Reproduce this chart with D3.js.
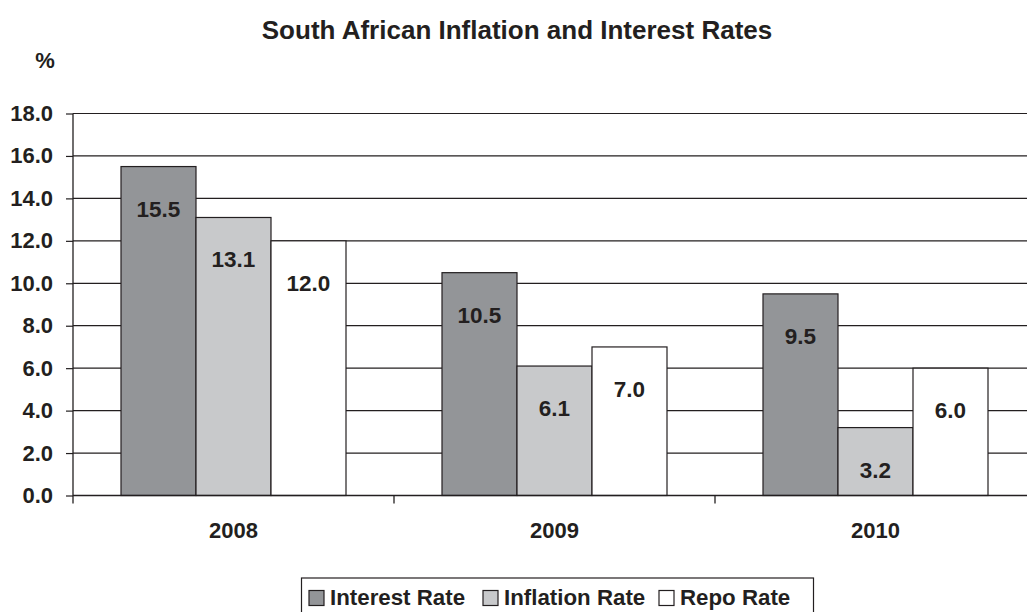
<!DOCTYPE html>
<html>
<head>
<meta charset="utf-8">
<script src="https://cdn.jsdelivr.net/npm/d3@7"></script>
<style>
  html, body { margin: 0; padding: 0; background: #fff; }
  svg { display: block; font-family: "Liberation Sans", Arial, sans-serif; font-weight: bold; }
</style>
</head>
<body>
<svg id="chart" width="1027" height="612"></svg>
<script>
// Chart data
const years = ["2008", "2009", "2010"];
const seriesNames = ["Interest Rate", "Inflation Rate", "Repo Rate"];
const interestRate = [15.5, 10.5, 9.5];
const inflationRate = [13.1, 6.1, 3.2];
const repoRate = [12.0, 7.0, 6.0];
const yTicks = [0, 2, 4, 6, 8, 10, 12, 14, 16, 18];

const seriesValues = [interestRate, inflationRate, repoRate];
const fills = ["#939598", "#c8c9cb", "#ffffff"];
const ink = "#231f20";

const svg = d3.select("#chart");

const x0 = d3.scaleBand().domain(years).range([73, 1036]).paddingInner(0).paddingOuter(0);
const groupWidth = 225;
const x1 = d3.scaleBand().domain(seriesNames).range([0, groupWidth]);
const y = d3.scaleLinear().domain([0, 18]).range([495.5, 113.5]);

// Title
svg.append("text")
  .attr("x", 517).attr("y", 39)
  .attr("text-anchor", "middle")
  .attr("font-size", 26)
  .attr("fill", ink)
  .text("South African Inflation and Interest Rates");

// Unit label
svg.append("text")
  .attr("x", 45).attr("y", 68)
  .attr("text-anchor", "middle")
  .attr("font-size", 22)
  .attr("fill", ink)
  .text("%");

// Horizontal gridlines
svg.append("g")
  .selectAll("line")
  .data(yTicks.filter(d => d > 0))
  .join("line")
  .attr("x1", 73).attr("x2", 1027)
  .attr("y1", d => y(d)).attr("y2", d => y(d))
  .attr("stroke", ink).attr("stroke-width", 1.2);

// Y axis
const yAxis = d3.axisLeft(y).tickValues(yTicks).tickFormat(d3.format(".1f")).tickSize(7).tickPadding(13);
const gy = svg.append("g").attr("transform", "translate(73,0)").call(yAxis);
gy.select(".domain").remove();
gy.selectAll(".tick line").attr("stroke", ink).attr("stroke-width", 1.2);
gy.selectAll(".tick text")
  .attr("fill", ink)
  .attr("font-size", 22)
  .attr("font-family", "'Liberation Sans', Arial, sans-serif")
  .attr("font-weight", "bold");
svg.append("line")
  .attr("x1", 73).attr("x2", 73).attr("y1", y(18)).attr("y2", y(0) + 8)
  .attr("stroke", ink).attr("stroke-width", 1.3);

// Bars
const groups = svg.append("g")
  .selectAll("g")
  .data(years)
  .join("g")
  .attr("transform", d => `translate(${x0(d) + (x0.bandwidth() - groupWidth) / 2},0)`);

groups.selectAll("rect")
  .data((d, i) => seriesNames.map((s, j) => ({ s, j, v: seriesValues[j][i] })))
  .join("rect")
  .attr("x", d => x1(d.s))
  .attr("y", d => y(d.v))
  .attr("width", x1.bandwidth())
  .attr("height", d => y(0) - y(d.v))
  .attr("fill", d => fills[d.j])
  .attr("stroke", ink)
  .attr("stroke-width", 1.2);

// Value labels
groups.selectAll("text")
  .data((d, i) => seriesNames.map((s, j) => ({ s, j, v: seriesValues[j][i] })))
  .join("text")
  .attr("x", d => x1(d.s) + x1.bandwidth() / 2)
  .attr("y", d => y(d.v) + 50)
  .attr("text-anchor", "middle")
  .attr("font-size", 22.5)
  .attr("fill", ink)
  .text(d => d3.format(".1f")(d.v));

// Baseline and category ticks
svg.append("line")
  .attr("x1", 73).attr("x2", 1027).attr("y1", y(0)).attr("y2", y(0))
  .attr("stroke", ink).attr("stroke-width", 1.3);
svg.append("g")
  .selectAll("line")
  .data(years.slice(1))
  .join("line")
  .attr("x1", d => x0(d)).attr("x2", d => x0(d))
  .attr("y1", y(0)).attr("y2", y(0) + 8)
  .attr("stroke", ink).attr("stroke-width", 1.3);

// Category labels
svg.append("g")
  .selectAll("text")
  .data(years)
  .join("text")
  .attr("x", d => x0(d) + x0.bandwidth() / 2)
  .attr("y", 538)
  .attr("text-anchor", "middle")
  .attr("font-size", 22)
  .attr("fill", ink)
  .text(d => d);

// Legend
const legend = svg.append("g");
legend.append("rect")
  .attr("x", 301.5).attr("y", 578)
  .attr("width", 512).attr("height", 50)
  .attr("fill", "#fff").attr("stroke", ink).attr("stroke-width", 1.2);
const legendX = [309, 483, 659];
seriesNames.forEach((s, j) => {
  legend.append("rect")
    .attr("x", legendX[j]).attr("y", 590.5)
    .attr("width", 15).attr("height", 15)
    .attr("fill", fills[j]).attr("stroke", ink).attr("stroke-width", 1.2);
  legend.append("text")
    .attr("x", legendX[j] + 21).attr("y", 605)
    .attr("font-size", 22.3)
    .attr("fill", ink)
    .text(s);
});
</script>
</body>
</html>
